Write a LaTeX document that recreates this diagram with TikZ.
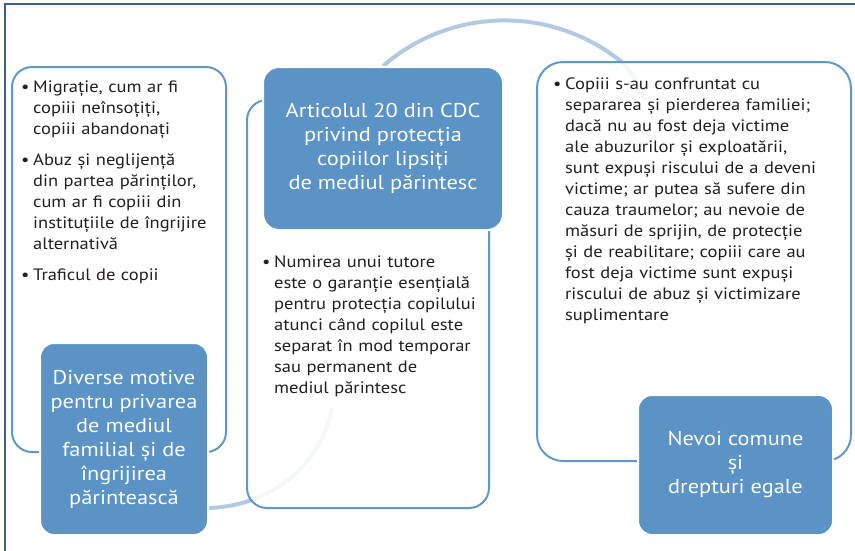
\documentclass[tikz,border=0pt]{standalone}
\usepackage{fontspec}
\setmainfont[FakeStretch=1.12]{PT Sans}
\definecolor{bfill}{HTML}{5B93C6}
\definecolor{bline}{HTML}{6197CB}
\definecolor{arcc}{HTML}{B3C8E2}
\definecolor{framec}{HTML}{3E5F8F}
\definecolor{txtc}{HTML}{231F20}
\newcommand\bfnt{\fontsize{16.5}{21}\selectfont\parskip=0pt}
\newcommand\tfnt{\fontsize{20}{24}\selectfont}
\newcommand\bitem[1]{\hangindent=12pt\hangafter=1\noindent\makebox[12pt][l]{\textbullet}#1\par}
\tikzset{
  wbox/.style={draw=bline, line width=2pt, fill=white, fill opacity=0.86, draw opacity=1, rounded corners=20pt, inner sep=0pt},
  bbox/.style={fill=bfill, draw=white, line width=2pt, rounded corners=14pt, text=white, align=center, font=\tfnt, inner sep=0pt},
  body/.style={text=txtc, font=\bfnt, align=left, inner sep=0pt, anchor=base west},
  arcline/.style={draw=arcc, line width=4pt},
}
\begin{document}
\begin{tikzpicture}[x=1pt,y=-1pt]
\useasboundingbox (0,0) rectangle (855,550);
\clip (0,0) rectangle (855,550);
\fill[white] (0,0) rectangle (855,550);
\draw[framec, line width=1.8pt] (5,4) rectangle (880,580);
% connectors (behind boxes)
\coordinate (a1) at (383,66);
\coordinate (a2) at (645,100);
\coordinate (b1) at (205,508);
\coordinate (b2) at (332,408);
\draw[arcline] (a1) .. controls (452.7,5.7) and (553.3,5.7) .. (623,63) .. controls (632,73) and (640,86) .. (a2);
\draw[arcline] (b1) .. controls (265,508) and (320,470) .. (b2);
% white boxes
\node[wbox, minimum width=214pt, minimum height=385pt] (lw) at (119,259.5) {};
\node[wbox, minimum width=242pt, minimum height=408pt] (mw) at (368,304) {};
\node[wbox, minimum width=314pt, minimum height=399pt, rounded corners=26pt] (rw) at (694,261.5) {};
% blue boxes
\node[bbox, minimum width=168pt, minimum height=192pt] (lb) at (124,439) {Diverse motive\\pentru privarea\\de mediul\\familial și de\\îngrijirea\\părintească};
\node[bbox, minimum width=240pt, minimum height=163pt, rounded corners=16pt] (mb) at (383,148.5) {Articolul 20 din CDC\\privind protecția\\copiilor lipsiți\\de mediul părintesc};
\node[bbox, minimum width=195pt, minimum height=140pt] (rb) at (735.5,465) {Nevoi comune\\și\\drepturi egale};
% texts
\node[body, text width=212pt] (lt) at (21,92) {%
\bitem{Migrație, cum ar fi\newline copiii neînsoțiți,\newline copiii abandonați}\vspace{10pt}
\bitem{Abuz și neglijență\newline din partea părinților,\newline cum ar fi copiii din\newline instituțiile de îngrijire\newline alternativă}\vspace{10pt}
\bitem{Traficul de copii}};
\node[body, text width=236pt] (mt) at (262,267) {%
\bitem{Numirea unui tutore\newline este o garanție esențială\newline pentru protecția copilului\newline atunci când copilul este\newline separat în mod temporar\newline sau permanent de\newline mediul părintesc}};
\node[body, text width=294pt] (rt) at (553,89) {%
\bitem{Copiii s-au confruntat cu\newline separarea și pierderea familiei;\newline dacă nu au fost deja victime\newline ale abuzurilor și exploatării,\newline sunt expuși riscului de a deveni\newline victime; ar putea să sufere din\newline cauza traumelor; au nevoie de\newline măsuri de sprijin, de protecție\newline și de reabilitare; copiii care au\newline fost deja victime sunt expuși\newline riscului de abuz și victimizare\newline suplimentare}};
\end{tikzpicture}
\end{document}
